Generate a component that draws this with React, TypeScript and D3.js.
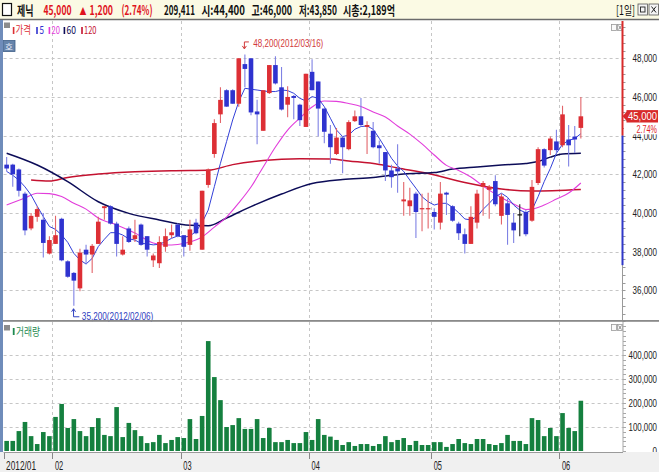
import React from "react";
import * as d3 from "d3";

const W = 659;
const H = 472;

// ---- data ----
const opens = [
  42500, 42500, 42250, 41000, 39200, 39800, 39650, 37900, 38400, 39700,
  37500, 36900, 36100, 38100, 37850, 38400, 40250, 40350, 39450, 37850,
  39200, 38650, 39400, 38800, 37550, 37400, 38250, 38850, 39400, 38850,
  38350, 39500, 38100, 41450, 43050, 45100, 46350, 46350, 45650, 47700,
  48000, 45250, 44250, 46200, 47650, 46500, 45600, 46050, 45600, 44450,
  47300, 46800, 45400, 44100, 43050, 43900, 43300, 44750, 45000, 44450,
  44250, 43500, 43150, 42200, 42300, 40600, 40350, 41000, 40200, 40200,
  40050, 39500, 41050, 40350, 39450, 38900, 38400, 39500, 41350, 41200,
  41650, 39850, 40500, 39500, 39900, 40050, 39600, 41550, 43300, 43250,
  43700, 43500, 43800, 43950, 44400,
];
const highs = [
  42900, 42550, 42300, 41100, 40000, 40350, 40000, 38800, 39850, 39750,
  37550, 36950, 38150, 38350, 38400, 39800, 40350, 40400, 39550, 38800,
  39300, 39650, 39450, 38800, 37900, 38800, 39200, 39400, 39450, 38850,
  39650, 39700, 41150, 42300, 44850, 46500, 46400, 46400, 48000, 48200,
  48000, 45850, 46350, 47650, 48100, 47550, 46550, 46100, 45650, 47200,
  47950, 46800, 45400, 44550, 44400, 43950, 44800, 45300, 45950, 44750,
  44700, 43750, 43150, 42500, 43550, 41600, 41300, 41100, 41000, 41050,
  40250, 41600, 41100, 40400, 39550, 39200, 40350, 41200, 41650, 41450,
  41950, 41000, 40750, 40000, 40450, 40150, 41700, 43400, 43350, 43950,
  44300, 45550, 44550, 44500, 46000,
];
const lows = [
  42150, 41350, 40850, 38850, 39100, 39550, 37700, 37850, 38400, 37500,
  36650, 35200, 35950, 37350, 36900, 38400, 39650, 39400, 37750, 37800,
  38450, 38500, 38300, 37750, 37200, 37150, 38000, 38700, 38750, 37750,
  38050, 38900, 38100, 41300, 42850, 44650, 45500, 45650, 45500, 46500,
  45050, 43550, 44250, 46150, 46650, 45300, 44950, 44850, 44500, 44450,
  46350, 43950, 43600, 42550, 43000, 42050, 43250, 44700, 44450, 43050,
  43350, 42550, 41650, 41300, 41050, 39850, 39850, 38700, 39050, 39200,
  39150, 39150, 39900, 39550, 38600, 37900, 38400, 39200, 39850, 39700,
  40350, 39400, 38350, 38450, 38800, 38800, 39550, 41450, 42350, 43000,
  43100, 43400, 42400, 43100, 43850,
];
const closes = [
  42300, 42000, 41150, 39100, 39850, 40200, 38450, 38600, 38850, 37550,
  36700, 36500, 37950, 37850, 38300, 39550, 40350, 39450, 38400, 38100,
  38500, 38850, 38350, 38100, 37800, 38500, 38800, 39000, 38800, 38250,
  39150, 38950, 41150, 42250, 44650, 45850, 45500, 45650, 48000, 47450,
  45200, 45100, 46350, 47650, 46700, 45350, 46000, 45950, 44800, 47200,
  46350, 45400, 44200, 43400, 43900, 43400, 44700, 45000, 44550, 44550,
  43400, 43350, 42200, 41850, 42150, 40700, 40650, 40050, 40250, 40250,
  39800, 41000, 40950, 39600, 38950, 38400, 39800, 41000, 41550, 41350,
  40450, 40850, 39900, 39100, 39900, 38900, 41350, 43300, 42450, 43850,
  43250, 45100, 43500, 43800, 45000,
];
const volumes = [
  42000, 42000, 83000, 121000, 62000, 29000, 79000, 62000, 142000, 196000,
  96000, 133000, 83000, 62000, 100000, 137000, 67000, 62000, 183000, 58000,
  117000, 87000, 62000, 33000, 37000, 67000, 33000, 46000, 58000, 54000,
  133000, 50000, 146000, 458000, 308000, 212000, 100000, 108000, 137000, 92000,
  92000, 133000, 54000, 96000, 37000, 37000, 46000, 33000, 33000, 79000,
  46000, 133000, 67000, 60000, 46000, 25000, 37000, 21000, 29000, 29000,
  21000, 29000, 62000, 37000, 46000, 54000, 25000, 42000, 25000, 25000,
  37000, 37000, 17000, 29000, 50000, 33000, 29000, 50000, 50000, 29000,
  25000, 33000, 67000, 42000, 42000, 29000, 137000, 129000, 62000, 96000,
  62000, 158000, 96000, 83000, 209411,
];
const ma5 = [
  42150, 41950, 41700, 41350, 40930, 40350, 39810, 39300, 39150, 38860,
  38480, 37910, 37570, 37360, 37650, 38260, 38640, 38980, 38980, 38860,
  38660, 38600, 38430, 38400, 38350, 38380, 38520, 38690, 38810, 38740,
  38810, 39040, 39500, 40150, 41360, 42570, 43690, 44810, 45760, 46450,
  46400, 46360, 46310, 46280, 46280, 46360, 46330, 46190, 45930, 45790,
  46020, 45930, 45500, 44900, 44290, 43950, 44030, 44330, 44470, 44500,
  44330, 43860, 43350, 42830, 42430, 42150, 41700, 41280, 40840, 40580,
  40410, 40500, 40500, 40290, 40010, 39690, 39640, 39810, 40190, 40500,
  40840, 41020, 40810, 40410, 40150, 40010, 40150, 40840, 41620, 42300,
  43090, 43550, 43750, 43850, 44100,
];
// [candle index, value]
const ma20Pts: [number, number][] = [
  [0, 40410], [3, 40770], [5, 41020], [7, 41000], [9, 40850], [11, 40500], [13, 40200],
  [15, 39740], [18, 39380], [21, 38960], [24, 38450], [26, 38340], [28, 38370], [30, 38500],
  [32, 38760], [34, 39270], [36, 39790], [38, 40520], [40, 41340], [42, 42380], [44, 43410],
  [46, 44290], [48, 44910], [50, 45480], [52, 45790], [54, 45770], [56, 45660], [58, 45510],
  [60, 45220], [62, 44960], [64, 44500], [66, 44080], [68, 43570], [70, 43000], [72, 42460],
  [74, 42200], [76, 41860], [78, 41390], [80, 40980], [82, 40620], [84, 40310], [85, 40180],
  [86, 40200], [88, 40410], [90, 40720], [92, 41030], [94, 41550],
];
const ma60Pts: [number, number][] = [
  [0, 43090], [5, 42480], [10, 41620], [15, 40580], [20, 39980], [25, 39640], [30, 39360],
  [33, 39340], [36, 39740], [40, 40330], [45, 40980], [50, 41520], [55, 41730], [60, 41830],
  [65, 42020], [70, 42090], [73, 42270], [77, 42380], [81, 42480], [85, 42560], [87, 42660],
  [89, 42890], [91, 43050], [94, 43090],
];
const ma120Pts: [number, number][] = [
  [4, 41700], [7, 41650], [10, 41840], [15, 42010], [21, 42130], [27, 42190], [33, 42210],
  [37, 42500], [42, 42710], [48, 42800], [53, 42790], [56, 42690], [61, 42510], [64, 42330],
  [69, 42040], [75, 41580], [81, 41240], [86, 41140], [94, 41220],
];
const monthTicks = [
  { i: 0, label: "2012/01" },
  { i: 8, label: "02" },
  { i: 29, label: "03" },
  { i: 50, label: "04" },
  { i: 70, label: "05" },
  { i: 91, label: "06" },
];
const priceTicks = [36000, 38000, 40000, 42000, 44000, 46000, 48000];
const volumeTicks = [0, 100000, 200000, 300000, 400000];
const highInfo = { i: 39, value: 48200, date: "2012/03/16" };
const lowInfo = { i: 11, value: 35200, date: "2012/02/06" };
const stockName = "제닉";
const marketCap = "2,189억";
const rangeTop = 44000;
const rangeBottom = 37300;

// ---- scales ----
const PL = 3.6;
const PR = 622.5;
const x = d3.scaleLinear().domain([-0.5, 100.9]).range([PL, 623]);
const yP = d3.scaleLinear().domain([36000, 48000]).range([290.3, 58.3]);
const yV = d3.scaleLinear().domain([0, 400000]).range([451, 355]);

const PT = 21;
const PB = 320;
const VT = 322;
const VB = 452;

const RED = "#dd2f35";
const BLUE = "#2f33cf";
const fmt = d3.format(",");
const axisFont = "'Liberation Sans', sans-serif";
const krFont = "'Noto Sans CJK KR', sans-serif";

let measureCtx: CanvasRenderingContext2D | null = null;
function emWidth(text: string, family: string, weight: string): number {
  if (!measureCtx && typeof document !== "undefined") {
    measureCtx = document.createElement("canvas").getContext("2d");
  }
  if (!measureCtx) return text.length * 0.55;
  measureCtx.font = `${weight} 100px ${family}`;
  return measureCtx.measureText(text).width / 100;
}

// condensed text: font size chosen so the natural width equals w, stretched vertically to the wanted size
function CT(props: any) {
  const { x: tx, y: ty, w, size, family = axisFont, weight = "normal", anchor = "start", fill, children } = props;
  const s = String(children);
  const em = emWidth(s, family, weight);
  let fs = w / em;
  if (fs > size) fs = size;
  const k = size / fs;
  return (
    <text
      x={tx}
      y={ty / k}
      fontSize={fs}
      fontFamily={family}
      fontWeight={weight}
      textAnchor={anchor}
      fill={fill}
      transform={`scale(1,${k})`}
    >
      {s}
    </text>
  );
}

export default function App() {
  const n = closes.length;
  const last = n - 1;
  const lastClose = closes[last];
  const prevClose = closes[last - 1];
  const change = lastClose - prevClose;
  const pct = ((change / prevClose) * 100).toFixed(2);

  const lineIdx = d3
    .line<number>()
    .x((_, i) => x(i))
    .y((d) => yP(d));
  const linePts = d3
    .line<[number, number]>()
    .x((d) => x(d[0]))
    .y((d) => yP(d[1]))
    .curve(d3.curveMonotoneX);

  const bw = 4.6;

  const minor: number[] = d3.range(34400, 50000, 400);
  const vMinor: number[] = d3.range(0, 540000, 20000);

  const header = [
    { t: stockName, x: 17, w: 16.5, c: "#111" },
    { t: fmt(lastClose), x: 43.5, w: 28, c: "#e0141e" },
    { t: "▲", x: 79.5, w: 7, c: "#e0141e" },
    { t: fmt(change), x: 89.5, w: 23.5, c: "#e0141e" },
    { t: `(${pct}%)`, x: 121.5, w: 31, c: "#e0141e" },
    { t: fmt(volumes[last]), x: 164, w: 31, c: "#111" },
    { t: `시:${fmt(opens[last])}`, x: 201.5, w: 43.5, c: "#111" },
    { t: `고:${fmt(highs[last])}`, x: 251.5, w: 40.5, c: "#111" },
    { t: `저:${fmt(lows[last])}`, x: 299, w: 38, c: "#111" },
    { t: `시총:${marketCap}`, x: 343, w: 52, c: "#111" },
  ];

  const legend = [
    { t: "가격", bx: 12.8, tx: 15.5, w: 15.5, c: RED },
    { t: "5", bx: 36.2, tx: 39.5, w: 4.5, c: BLUE },
    { t: "20", bx: 48.6, tx: 51.5, w: 8.5, c: "#e23ddb" },
    { t: "60", bx: 63.6, tx: 66.5, w: 9.5, c: "#0c0c58" },
    { t: "120", bx: 81.2, tx: 84, w: 12.5, c: "#c41230" },
  ];

  return (
    <svg
      width={W}
      height={H}
      viewBox={`0 0 ${W} ${H}`}
      style={{ position: "absolute", left: 0, top: 0, display: "block" }}
    >
      <style>{"body{margin:0}"}</style>
      <defs>
        <clipPath id="pclip">
          <rect x={PL} y={PT} width={PR - PL} height={PB - PT} />
        </clipPath>
      </defs>
      <rect x={0} y={0} width={W} height={H} fill="#ffffff" />

      {/* header */}
      <rect x={0} y={0} width={W} height={19} fill="#fbfae4" />
      <line x1={0} x2={W} y1={19.5} y2={19.5} stroke="#6b6b6b" strokeWidth={1.6} />
      <rect x={2.5} y={3.5} width={9} height={12} fill="#fff" stroke="#111" strokeWidth={1.2} />
      {header.map((h, k) => (
        <CT
          key={k}
          x={h.x}
          y={15}
          w={h.w}
          size={h.t === "▲" ? 10 : 13}
          family={krFont}
          weight="bold"
          fill={h.c}
        >
          {h.t}
        </CT>
      ))}
      <CT x={616} y={15} w={19} size={12.5} family={krFont} fill="#111">[1일]</CT>
      <rect x={638} y={4} width={9.5} height={11} fill="#f4f4f4" stroke="#555" strokeWidth={0.8} />
      <rect x={640.5} y={7} width={4.5} height={5} fill="none" stroke="#222" strokeWidth={0.9} />
      <rect x={649} y={4} width={9.5} height={11} fill="#f4f4f4" stroke="#555" strokeWidth={0.8} />
      <path d="M651.5,6.5 l4.5,6 M656,6.5 l-4.5,6" stroke="#222" strokeWidth={1} />

      {/* left strip */}
      <rect x={0} y={20} width={3} height={VB - 20} fill="#6f8cba" />

      {/* gridlines */}
      <g stroke="#c6c6c6" strokeWidth={1} strokeDasharray="3,3">
        {priceTicks.map((p) => (
          <line key={p} x1={PL} x2={PR} y1={Math.round(yP(p)) + 0.5} y2={Math.round(yP(p)) + 0.5} />
        ))}
        {monthTicks.slice(1).map((m) => (
          <line key={m.label} x1={Math.round(x(m.i - 0.5)) + 0.5} x2={Math.round(x(m.i - 0.5)) + 0.5} y1={PT} y2={PB} />
        ))}
        {monthTicks.slice(1).map((m) => (
          <line key={"v" + m.label} x1={Math.round(x(m.i - 0.5)) + 0.5} x2={Math.round(x(m.i - 0.5)) + 0.5} y1={VT} y2={VB} />
        ))}
        {volumeTicks.slice(1).map((v) => (
          <line key={"vg" + v} x1={PL} x2={623} y1={Math.round(yV(v)) + 0.5} y2={Math.round(yV(v)) + 0.5} />
        ))}
      </g>

      {/* moving averages */}
      <g clipPath="url(#pclip)" fill="none">
        <path d={linePts(ma120Pts) || ""} stroke="#c41230" strokeWidth={1.5} />
        <path d={linePts(ma60Pts) || ""} stroke="#0c0c58" strokeWidth={1.5} />
        <path d={linePts(ma20Pts) || ""} stroke="#e23ddb" strokeWidth={1.1} />
        <path d={lineIdx(ma5) || ""} stroke="#3340d8" strokeWidth={1} />
      </g>

      {/* candles */}
      <g clipPath="url(#pclip)">
        {closes.map((c, i) => {
          const o = opens[i];
          const up = c > o;
          const flat = c === o;
          const col = flat ? "#111" : up ? RED : BLUE;
          const wcol = flat ? "#222" : up ? "#e2656a" : "#7f82e4";
          const cx = x(i);
          const top = yP(Math.max(o, c));
          const bot = yP(Math.min(o, c));
          return (
            <g key={i}>
              <line x1={cx} x2={cx} y1={yP(highs[i])} y2={yP(lows[i])} stroke={wcol} strokeWidth={1.1} />
              {flat ? (
                <line x1={cx - bw / 2} x2={cx + bw / 2} y1={top} y2={top} stroke={col} strokeWidth={1.2} />
              ) : (
                <rect x={cx - bw / 2} y={top} width={bw} height={Math.max(1.2, bot - top)} fill={col} />
              )}
            </g>
          );
        })}
      </g>

      {/* high / low annotations */}
      <g fill="none" strokeWidth={1}>
        <path
          d={`M${x(highInfo.i) + 4},${yP(highInfo.value) - 12.5} H${x(highInfo.i) - 0.5} V${yP(highInfo.value) - 6}`}
          stroke="#d23a3a"
        />
        <path
          d={`M${x(highInfo.i) - 2.5},${yP(highInfo.value) - 8.5} L${x(highInfo.i) - 0.5},${yP(highInfo.value) - 5.5} L${x(highInfo.i) + 1.5},${yP(highInfo.value) - 8.5}`}
          stroke="#d23a3a"
        />
        <path
          d={`M${x(lowInfo.i) - 0.3},${yP(lowInfo.value) + 3} V${yP(lowInfo.value) + 11} H${x(lowInfo.i) + 5.5}`}
          stroke="#3040c0"
        />
        <path
          d={`M${x(lowInfo.i) - 2.3},${yP(lowInfo.value) + 6} L${x(lowInfo.i) - 0.3},${yP(lowInfo.value) + 3} L${x(lowInfo.i) + 1.7},${yP(lowInfo.value) + 6}`}
          stroke="#3040c0"
        />
      </g>
      <CT x={x(highInfo.i) + 8.5} y={yP(highInfo.value) - 7.5} w={70} size={11} fill="#d23a3a">
        {`${fmt(highInfo.value)}(${highInfo.date})`}
      </CT>
      <CT x={x(lowInfo.i) + 8} y={yP(lowInfo.value) + 14} w={71.5} size={11} fill="#3040c0">
        {`${fmt(lowInfo.value)}(${lowInfo.date})`}
      </CT>

      {/* price legend */}
      <rect x={4} y={22.5} width={6} height={5.5} fill="#8c8c8c" />
      {legend.map((l) => (
        <g key={l.t}>
          <rect x={l.bx} y={27} width={1.6} height={7} fill={l.c} />
          <CT x={l.tx} y={34.3} w={l.w} size={11} family={krFont} fill={l.c}>
            {l.t}
          </CT>
        </g>
      ))}
      <rect x={3} y={40.5} width={12} height={11} fill="#6684ab" stroke="#3f5f88" strokeWidth={0.8} />
      <text x={9} y={49.5} fontSize={8.5} fontFamily={krFont} fill="#eef3ff" textAnchor="middle">호</text>

      {/* panel icons */}
      {[24, 324].map((yy) => (
        <g key={yy}>
          <rect x={611.5} y={yy + 0.5} width={5} height={6} fill="#fafafa" stroke="#999" strokeWidth={0.8} />
          <rect x={617.5} y={yy + 0.5} width={5} height={6} fill="#fafafa" stroke="#999" strokeWidth={0.8} />
          <path d={`M618.5,${yy + 1.5} l3,4 M621.5,${yy + 1.5} l-3,4`} stroke="#666" strokeWidth={0.7} />
        </g>
      ))}

      {/* right price axis */}
      <line x1={PR} x2={PR} y1={PT} y2={PB} stroke="#9a9a9a" strokeWidth={1} />
      <g stroke="#9a9a9a" strokeWidth={1}>
        {minor.map((p) => (
          <line key={p} x1={PR} x2={PR + 3} y1={Math.round(yP(p)) + 0.5} y2={Math.round(yP(p)) + 0.5} />
        ))}
      </g>
      <line x1={PR} x2={PR} y1={PT} y2={yP(rangeTop)} stroke="#d82a2a" strokeWidth={2} />
      <line x1={PR} x2={PR} y1={yP(rangeTop)} y2={yP(rangeBottom)} stroke="#3038c8" strokeWidth={2} />
      {priceTicks.map((p) => (
        <CT key={p} x={657} y={yP(p) + 4} w={24.5} size={11} anchor="end" fill="#222">
          {fmt(p)}
        </CT>
      ))}
      <rect x={624} y={yP(lastClose) + 7.5} width={35} height={10.5} fill="#ffffff" />
      <CT x={657} y={yP(lastClose) + 16.8} w={20.5} size={11} anchor="end" fill="#e0242a">
        {`${pct}%`}
      </CT>
      <path
        d={`M${PR},${yP(lastClose)} L${PR + 4.5},${yP(lastClose) - 5} L${PR + 4.5},${yP(lastClose) + 5} Z`}
        fill="#d82a2a"
      />
      <rect x={626.5} y={yP(lastClose) - 6.2} width={31.5} height={12.4} fill="#d82a2a" />
      <CT x={657} y={yP(lastClose) + 4} w={29} size={11} anchor="end" fill="#ffffff">
        {fmt(lastClose)}
      </CT>

      {/* separator */}
      <rect x={0} y={320} width={W} height={1.8} fill="#8a8a8a" />

      {/* volume */}
      <g fill="#15803f">
        {volumes.map((v, i) => (
          <rect key={i} x={x(i) - bw / 2} y={yV(v)} width={bw} height={yV(0) - yV(v)} />
        ))}
      </g>
      <rect x={4} y={325} width={6} height={5.5} fill="#8c8c8c" />
      <rect x={12.8} y={328} width={1.8} height={7} fill="#1e8a50" />
      <CT x={16} y={335.8} w={24} size={11} family={krFont} fill="#1e8a50">거래량</CT>
      <line x1={623} x2={623} y1={VT} y2={VB} stroke="#a8a8a8" strokeWidth={1} />
      <g stroke="#a8a8a8" strokeWidth={1}>
        {vMinor.map((v) => (
          <line key={v} x1={623} x2={626} y1={Math.round(yV(v)) + 0.5} y2={Math.round(yV(v)) + 0.5} />
        ))}
      </g>
      {volumeTicks.map((v) => (
        <CT key={v} x={657} y={yV(v) + 4} w={v === 0 ? 4.5 : 28.5} size={11} anchor="end" fill="#222">
          {fmt(v)}
        </CT>
      ))}

      {/* x axis */}
      <rect x={0} y={VB} width={W} height={H - VB} fill="#f0f0f0" />
      <line x1={PL} x2={623} y1={VB + 0.5} y2={VB + 0.5} stroke="#9a9a9a" strokeWidth={1} />
      <rect x={0} y={20} width={3} height={VB - 20} fill="#6f8cba" />
      <g stroke="#888" strokeWidth={1}>
        {monthTicks.map((m) => (
          <line
            key={m.label}
            x1={Math.round(x(m.i - 0.5)) + 0.5}
            x2={Math.round(x(m.i - 0.5)) + 0.5}
            y1={VB + 1}
            y2={VB + 7}
          />
        ))}
      </g>
      {monthTicks.map((m) => (
        <CT key={m.label} x={x(m.i - 0.5) + 2.5} y={470} w={m.label.length > 2 ? 30 : 8.3} size={12} fill="#222">
          {m.label}
        </CT>
      ))}
    </svg>
  );
}
